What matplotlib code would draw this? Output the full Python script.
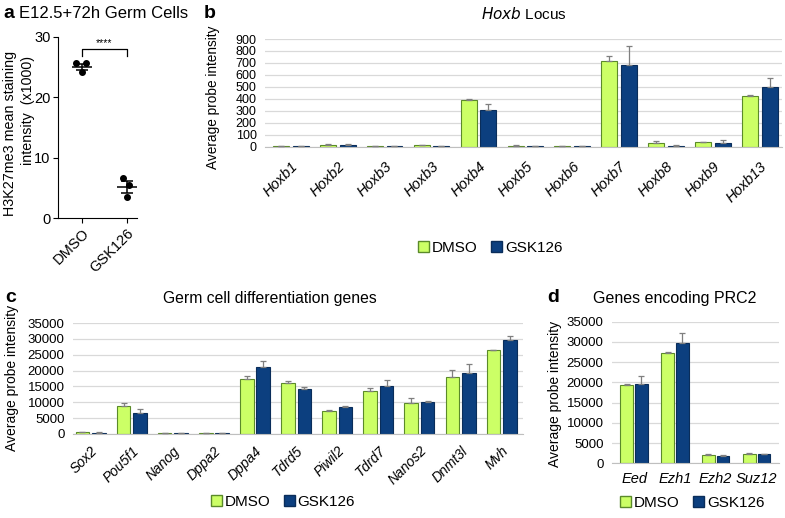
import matplotlib
matplotlib.use("Agg")
import matplotlib.pyplot as plt
import numpy as np
from matplotlib.patches import Patch

plt.rcParams['font.family'] = ['Liberation Sans', 'DejaVu Sans']

W, H = 785, 518

# ---------------- data ----------------
# panel a
a_groups = ["DMSO", "GSK126"]
a_points_dmso = [25.6, 25.6, 24.1]
a_points_gsk = [6.7, 5.5, 3.5]
a_mean = [25.0, 5.2]
a_sem = [0.55, 1.0]

# panel b
b_genes = ["Hoxb1", "Hoxb2", "Hoxb3", "Hoxb3", "Hoxb4", "Hoxb5", "Hoxb6",
           "Hoxb7", "Hoxb8", "Hoxb9", "Hoxb13"]
b_dmso = [5, 18, 5, 15, 390, 10, 5, 720, 30, 38, 420]
b_gsk = [3, 14, 3, 8, 310, 3, 4, 680, 10, 35, 495]
b_dmso_err = [1, 6, 1, 3, 10, 3, 1, 40, 20, 3, 8]
b_gsk_err = [1, 5, 1, 2, 50, 1, 1, 160, 5, 18, 75]

# panel c
c_genes = ["Sox2", "Pou5f1", "Nanog", "Dppa2", "Dppa4", "Tdrd5", "Piwil2",
           "Tdrd7", "Nanos2", "Dnmt3l", "Mvh"]
c_dmso = [600, 8700, 300, 200, 17500, 16000, 7300, 13700, 9800, 17900, 26500]
c_gsk = [400, 6600, 250, 200, 21000, 14100, 8400, 15100, 10000, 19200, 29700]
c_dmso_err = [100, 1200, 50, 50, 700, 600, 400, 700, 1400, 2300, 100]
c_gsk_err = [80, 1200, 50, 50, 2000, 600, 300, 2000, 400, 2900, 1200]

# panel d
d_genes = ["Eed", "Ezh1", "Ezh2", "Suz12"]
d_dmso = [19300, 27300, 2100, 2400]
d_gsk = [19700, 29700, 1900, 2200]
d_dmso_err = [400, 300, 150, 200]
d_gsk_err = [2000, 2400, 100, 150]

GREEN = "#ccff66"
GREEN_E = "#5b8a2a"
BLUE = "#0c3f7f"
BLUE_E = "#0a2d5a"
ERRC = "#7f7f7f"
GRID = "#d9d9d9"

fig = plt.figure(figsize=(W / 100, H / 100), dpi=100)


def ax_px(left, top, right, bottom):
    return fig.add_axes([left / W, 1 - bottom / H, (right - left) / W, (bottom - top) / H])


def ftext(x, y, s, **kw):
    fig.text(x / W, 1 - y / H, s, **kw)


# ---------------- panel a ----------------
axa = ax_px(58.3, 36.7, 137, 218.3)
xa = np.arange(len(a_groups))
for i, pts in enumerate([a_points_dmso, a_points_gsk]):
    offs = [-0.13, 0.09, 0.0] if i == 0 else [-0.08, 0.05, 0.0]
    axa.scatter(np.full(len(pts), xa[i]) + np.array(offs), pts, s=16, color="black", zorder=3)
    axa.hlines(a_mean[i], xa[i] - 0.22, xa[i] + 0.22, color="black", lw=1.1)
    axa.hlines([a_mean[i] - a_sem[i], a_mean[i] + a_sem[i]], xa[i] - 0.13, xa[i] + 0.13,
               color="black", lw=1.1)
    axa.vlines(xa[i], a_mean[i] - a_sem[i], a_mean[i] + a_sem[i], color="black", lw=1.1)
axa.set_xlim(-0.52, 1.23)
axa.set_ylim(0, 30)
axa.set_yticks([0, 10, 20, 30])
axa.set_xticks(xa)
axa.set_xticklabels(a_groups, rotation=45, ha="right", rotation_mode="anchor", fontsize=10.5)
axa.tick_params(axis="y", labelsize=10.5, length=3.5, pad=2)
axa.tick_params(axis="x", length=3.5, pad=2)
for s in ["top", "right"]:
    axa.spines[s].set_visible(False)
# significance bracket
axa.plot([xa[0], xa[0], xa[1], xa[1]], [26.8, 27.9, 27.9, 26.8], color="black", lw=0.9)
axa.text((xa[0] + xa[1]) / 2, 28.1, "****", ha="center", va="bottom", fontsize=7.5)
ftext(10, 133, "H3K27me3 mean staining", rotation=90, ha="center", va="center", fontsize=10.3)
ftext(28, 110, "intensity  (x1000)", rotation=90, ha="center", va="center", fontsize=10.3)
ftext(3, 14, "a", fontsize=14, fontweight="bold", va="center")
ftext(19, 14, "E12.5+72h Germ Cells", fontsize=12, va="center")


# ---------------- bar panels helper ----------------
def bar_panel(ax, genes, dm, gs, dme, gse, width, off, ymax, step, rot, ylsize, xlsize, xpad):
    x = np.arange(len(genes))
    ax.bar(x - off, dm, width, color=GREEN, edgecolor=GREEN_E, linewidth=0.8, zorder=2)
    ax.bar(x + off, gs, width, color=BLUE, edgecolor=BLUE_E, linewidth=0.8, zorder=2)
    ax.errorbar(x - off, dm, yerr=[np.zeros(len(dm)), dme], fmt="none", ecolor=ERRC,
                elinewidth=0.9, capsize=2.5, capthick=0.9, zorder=3)
    ax.errorbar(x + off, gs, yerr=[np.zeros(len(gs)), gse], fmt="none", ecolor=ERRC,
                elinewidth=0.9, capsize=2.5, capthick=0.9, zorder=3)
    ax.set_ylim(0, ymax)
    ax.set_yticks(np.arange(0, ymax + 1, step))
    ax.yaxis.grid(True, color=GRID, lw=0.9)
    ax.set_axisbelow(True)
    for s in ["top", "right", "left"]:
        ax.spines[s].set_visible(False)
    ax.spines["bottom"].set_color("#bfbfbf")
    ax.tick_params(axis="both", length=0)
    ax.tick_params(axis="y", pad=6, labelsize=ylsize)
    ax.set_xticks(x)
    if rot:
        ax.set_xticklabels(genes, rotation=45, ha="right", rotation_mode="anchor",
                           fontstyle="italic", fontsize=xlsize)
    else:
        ax.set_xticklabels(genes, fontstyle="italic", fontsize=xlsize)
    ax.tick_params(axis="x", pad=xpad)


def legend_at(x, y, fs=11):
    h = [Patch(facecolor=GREEN, edgecolor=GREEN_E, label="DMSO"),
         Patch(facecolor=BLUE, edgecolor=BLUE_E, label="GSK126")]
    fig.legend(handles=h, loc="center", bbox_to_anchor=(x / W, 1 - y / H), ncol=2,
               frameon=False, fontsize=fs, handlelength=0.75, handleheight=0.75,
               handletextpad=0.15, columnspacing=0.9)


# ---------------- panel b ----------------
axb = ax_px(265, 39, 782, 146.7)
bar_panel(axb, b_genes, b_dmso, b_gsk, b_dmso_err, b_gsk_err, 0.34, 0.21, 900, 100, True, 9, 10.5, 9)
axb.set_xlim(-0.55, 10.47)
ftext(204, 13, "b", fontsize=14, fontweight="bold", va="center")
ftext(524, 14, r"$\it{Hoxb}$ Locus", fontsize=11, va="center", ha="center")
ftext(213, 97, "Average probe intensity", rotation=90, ha="center", va="center", fontsize=9.8)
legend_at(490, 248)

# ---------------- panel c ----------------
axc = ax_px(73, 323, 523, 434)
bar_panel(axc, c_genes, c_dmso, c_gsk, c_dmso_err, c_gsk_err, 0.33, 0.2, 35000, 5000, True, 9.5, 10, 7)
axc.set_xlim(-0.43, 10.52)
ftext(5, 298, "c", fontsize=14, fontweight="bold", va="center")
ftext(270, 298, "Germ cell differentiation genes", fontsize=11.3, va="center", ha="center")
ftext(12, 378, "Average probe intensity", rotation=90, ha="center", va="center", fontsize=10)
legend_at(283, 502)

# ---------------- panel d ----------------
axd = ax_px(612, 321.7, 779, 463.3)
bar_panel(axd, d_genes, d_dmso, d_gsk, d_dmso_err, d_gsk_err, 0.31, 0.18, 35000, 5000, False, 9.5, 10.5, 6)
axd.set_xlim(-0.54, 3.55)
ftext(547, 298, "d", fontsize=14, fontweight="bold", va="center")
ftext(593, 298, "Genes encoding PRC2", fontsize=11.5, va="center", ha="left")
ftext(555, 394, "Average probe intensity", rotation=90, ha="center", va="center", fontsize=10)
legend_at(692, 503)

fig.savefig("out.png", dpi=100)
